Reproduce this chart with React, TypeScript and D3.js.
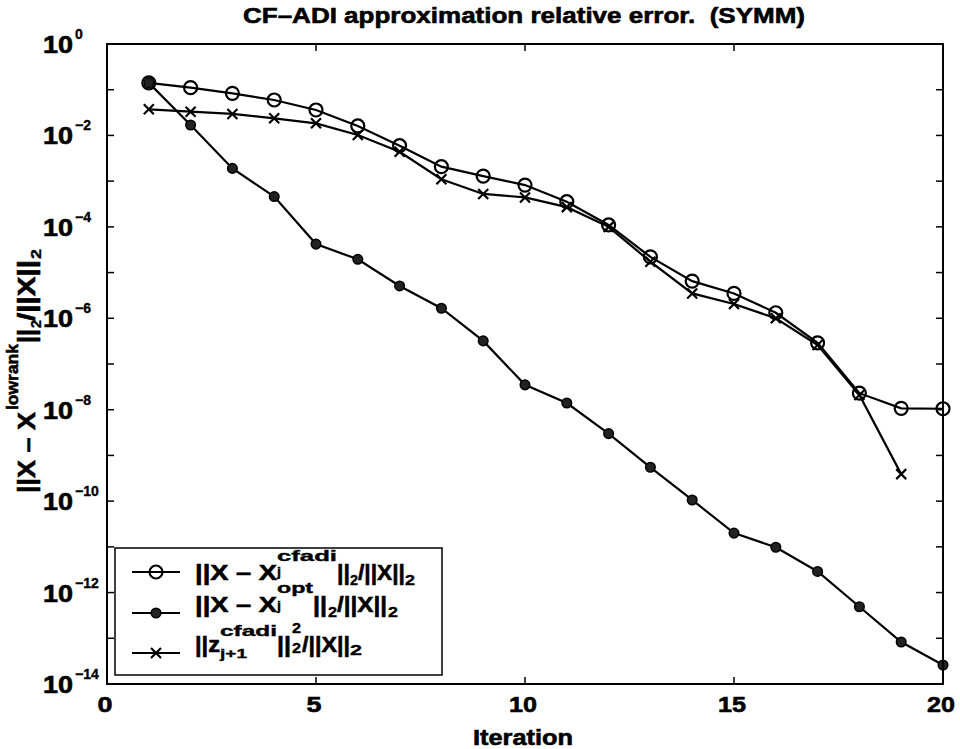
import React from "react";
import * as d3 from "d3";

// iteration numbers
const iters = [1, 2, 3, 4, 5, 6, 7, 8, 9, 10, 11, 12, 13, 14, 15, 16, 17, 18, 19, 20];
const zIters = [1, 2, 3, 4, 5, 6, 7, 8, 9, 10, 11, 12, 13, 14, 15, 16, 17, 18, 19];

// ||X - X_j^cfadi||_2 / ||X||_2  (open circles)
const cfadiErr = [
  0.141, 0.111, 0.0832, 0.0596, 0.036, 0.0161, 0.00596, 0.00207, 0.00129, 8.2e-4,
  3.55e-4, 1.1e-4, 2.2e-5, 6.5e-6, 3.5e-6, 1.32e-6, 2.9e-7, 2.3e-8, 1.07e-8, 1.05e-8,
];
// ||X - X_j^opt||_2 / ||X||_2  (filled dots)
const optErr = [
  0.141, 0.0169, 1.9e-3, 4.6e-4, 4.2e-5, 1.95e-5, 5.1e-6, 1.66e-6, 3.2e-7, 3.5e-8,
  1.4e-8, 3.0e-9, 5.5e-10, 1.06e-10, 2.0e-11, 9.8e-12, 2.9e-12, 4.9e-13, 8.3e-14, 2.6e-14,
];
// ||z_{j+1}^cfadi||_2^2 / ||X||_2  (crosses)
const zNorm = [
  0.0372, 0.0331, 0.0295, 0.0237, 0.0184, 0.0102, 0.0044, 1.1e-3, 5.25e-4, 4.4e-4,
  2.7e-4, 1.0e-4, 1.73e-5, 3.5e-6, 2.05e-6, 1.0e-6, 2.6e-7, 2.1e-8, 3.9e-10,
];

const xTicks = [0, 5, 10, 15, 20];
const yDecades = [0, -1, -2, -3, -4, -5, -6, -7, -8, -9, -10, -11, -12, -13, -14];
const yLabelExps = [0, -2, -4, -6, -8, -10, -12, -14];

const FONT = "'Liberation Sans', Arial, Helvetica, sans-serif";

const left = 107;
const right = 943;
const top = 44;
const bottom = 684;

const x = d3.scaleLinear().domain([0, 20]).range([left, right]);
const y = d3.scaleLog().domain([1, 1e-14]).range([top, bottom]);

const line = d3
  .line<[number, number]>()
  .x((d) => x(d[0]))
  .y((d) => y(d[1]));

// bold text squeezed/stretched to the measured width
const T = ({ x, y, len, size = 22, anchor = "start", children }: any) => (
  <text
    x={x}
    y={y}
    fontSize={size}
    fontWeight="bold"
    fontFamily={FONT}
    textAnchor={anchor}
    textLength={len}
    lengthAdjust="spacingAndGlyphs"
    fill="#000"
    stroke="#000"
    strokeWidth={size > 16 ? 0.6 : 0.35}
  >
    {children}
  </text>
);

const Circle = ({ cx, cy }: any) => (
  <circle cx={cx} cy={cy} r={6.5} fill="none" stroke="#000" strokeWidth={2.2} />
);
const Dot = ({ cx, cy }: any) => (
  <circle cx={cx} cy={cy} r={4.8} fill="#222" stroke="#000" strokeWidth={1.5} />
);
const Cross = ({ cx, cy }: any) => (
  <path
    d={`M${cx - 5},${cy - 5}L${cx + 5},${cy + 5}M${cx - 5},${cy + 5}L${cx + 5},${cy - 5}`}
    stroke="#000"
    strokeWidth={2.2}
  />
);

const App = () => {
  const cfadiPts = iters.map((it, i) => [it, cfadiErr[i]] as [number, number]);
  const optPts = iters.map((it, i) => [it, optErr[i]] as [number, number]);
  const zPts = zIters.map((it, i) => [it, zNorm[i]] as [number, number]);
  const tick = 7;

  return (
    <svg
      width={960}
      height={749}
      style={{ position: "absolute", left: 0, top: 0, background: "#fff" }}
    >
      <rect width={960} height={749} fill="#fff" />

      {/* title */}
      <T x={243} y={23} len={562} size={22}>
        {"CF–ADI approximation relative error.\u00a0\u00a0(SYMM)"}
      </T>

      {/* series lines */}
      <path d={line(cfadiPts) || ""} fill="none" stroke="#000" strokeWidth={2.2} />
      <path d={line(optPts) || ""} fill="none" stroke="#000" strokeWidth={2.2} />
      <path d={line(zPts) || ""} fill="none" stroke="#000" strokeWidth={2.2} />

      {/* markers */}
      {cfadiPts.map((d, i) => (
        <Circle key={"c" + i} cx={x(d[0])} cy={y(d[1])} />
      ))}
      {optPts.map((d, i) => (
        <Dot key={"o" + i} cx={x(d[0])} cy={y(d[1])} />
      ))}
      {zPts.map((d, i) => (
        <Cross key={"z" + i} cx={x(d[0])} cy={y(d[1])} />
      ))}

      {/* axes box and ticks */}
      <rect
        x={left}
        y={top}
        width={right - left}
        height={bottom - top}
        fill="none"
        stroke="#000"
        strokeWidth={2}
      />
      {xTicks.map((t) => (
        <g key={"xt" + t}>
          <line x1={x(t)} x2={x(t)} y1={bottom} y2={bottom - tick} stroke="#000" strokeWidth={1.5} />
          <line x1={x(t)} x2={x(t)} y1={top} y2={top + tick} stroke="#000" strokeWidth={1.5} />
          <T x={x(t) - 2} y={712} len={t < 10 ? 15 : 28} anchor="middle">
            {String(t)}
          </T>
        </g>
      ))}
      {yDecades.map((e) => (
        <g key={"yt" + e}>
          <line x1={left} x2={left + tick} y1={y(10 ** e)} y2={y(10 ** e)} stroke="#000" strokeWidth={1.5} />
          <line x1={right} x2={right - tick} y1={y(10 ** e)} y2={y(10 ** e)} stroke="#000" strokeWidth={1.5} />
        </g>
      ))}
      {yLabelExps.map((e) => (
        <g key={"yl" + e}>
          <T x={43} y={y(10 ** e) + 9} len={30} size={23}>
            10
          </T>
          <text
            x={75}
            y={y(10 ** e) - 5}
            fontSize={14}
            fontWeight="bold"
            fontFamily={FONT}
            stroke="#000"
            strokeWidth={0.35}
          >
            {e === 0 ? "0" : "−" + Math.abs(e)}
          </text>
        </g>
      ))}

      {/* x label */}
      <T x={523} y={745} len={100} size={22} anchor="middle">
        Iteration
      </T>

      {/* y label */}
      <g transform="translate(35,493) rotate(-90)">
        <T x={0} y={0} len={81} size={23}>
          ||X – X
        </T>
        <T x={83} y={-17} len={66} size={17}>
          lowrank
        </T>
        <T x={150} y={0} len={14} size={23}>
          ||
        </T>
        <T x={165} y={6} len={8} size={14}>
          2
        </T>
        <T x={172} y={0} len={61} size={23}>
          /||X||
        </T>
        <T x={234} y={6} len={10} size={14}>
          2
        </T>
      </g>

      {/* legend */}
      <rect x={115} y={548} width={327} height={127} fill="#fff" stroke="#000" strokeWidth={1.5} />
      <line x1={132} x2={180} y1={572} y2={572} stroke="#000" strokeWidth={2} />
      <Circle cx={156} cy={572} />
      <line x1={132} x2={180} y1={613} y2={613} stroke="#000" strokeWidth={2} />
      <Dot cx={156} cy={613} />
      <line x1={132} x2={180} y1={653} y2={653} stroke="#000" strokeWidth={2} />
      <Cross cx={156} cy={653} />

      {/* row 1 */}
      <T x={195} y={580} len={82}>||X – X</T>
      <T x={277} y={561} len={60} size={15}>cfadi</T>
      <T x={277} y={576} len={4} size={12}>j</T>
      <T x={337} y={580} len={13}>||</T>
      <T x={350} y={585} len={8} size={15}>2</T>
      <T x={358} y={580} len={47}>/||X||</T>
      <T x={405} y={585} len={10} size={15}>2</T>

      {/* row 2 */}
      <T x={195} y={612} len={82}>||X – X</T>
      <T x={277} y={593} len={36} size={14}>opt</T>
      <T x={277} y={610} len={4} size={12}>j</T>
      <T x={313} y={612} len={14}>||</T>
      <T x={328} y={617} len={9} size={15}>2</T>
      <T x={337} y={612} len={50}>/||X||</T>
      <T x={388} y={617} len={10} size={15}>2</T>

      {/* row 3 */}
      <T x={195} y={652} len={25}>||z</T>
      <T x={220} y={636} len={57} size={15}>cfadi</T>
      <T x={220} y={658} len={27} size={13}>j+1</T>
      <T x={277} y={652} len={14}>||</T>
      <T x={292} y={633} len={9} size={14}>2</T>
      <T x={292} y={653} len={9} size={14}>2</T>
      <T x={302} y={652} len={48}>/||X||</T>
      <T x={350} y={655} len={12} size={15}>2</T>
    </svg>
  );
};

export default App;
